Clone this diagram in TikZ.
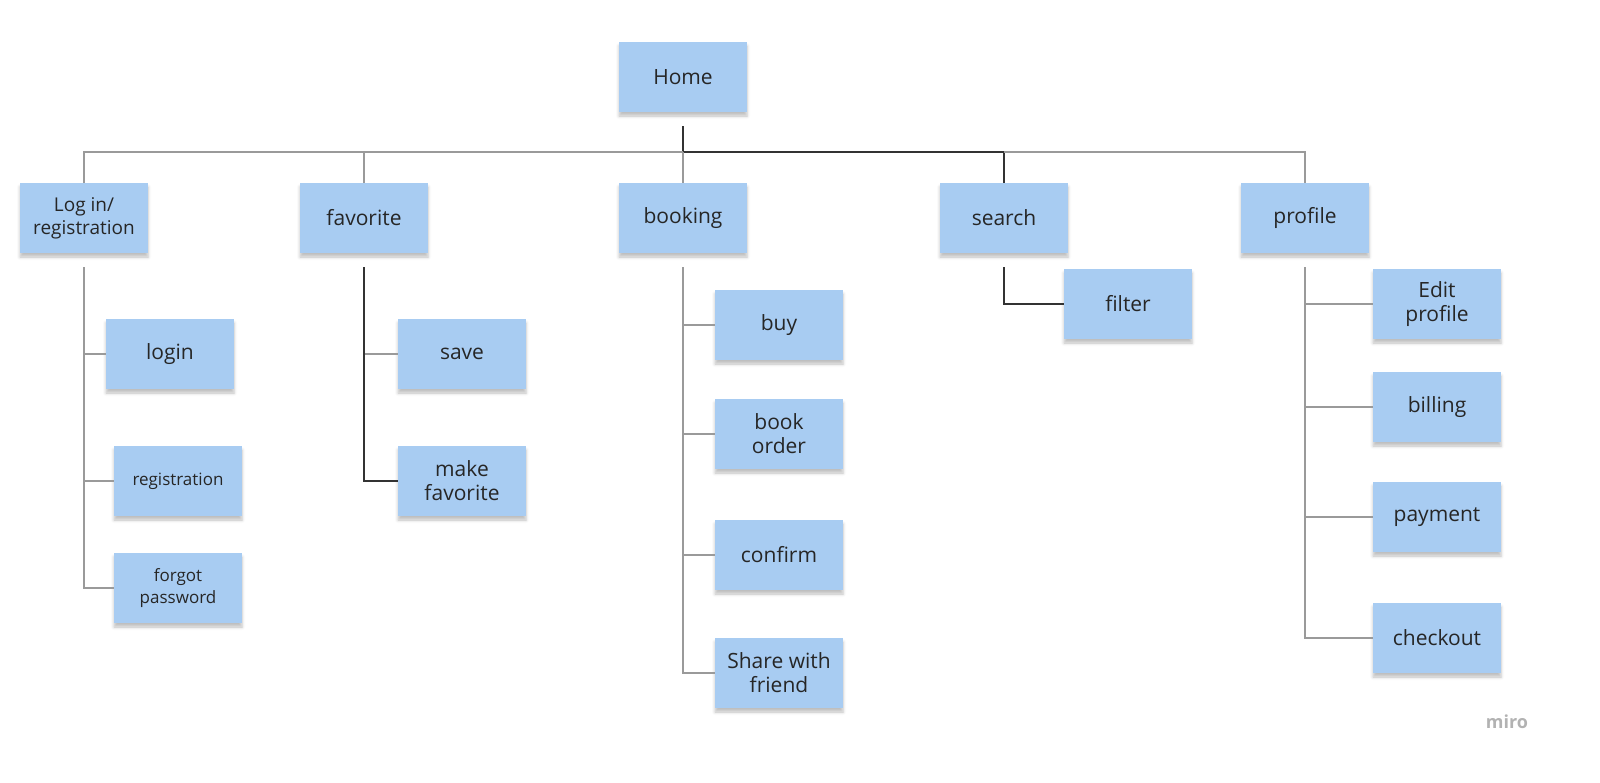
\documentclass[tikz,border=0pt]{standalone}
\usepackage{fontspec}
\setmainfont{Open Sans}
\usetikzlibrary{shadows.blur}
\definecolor{note}{HTML}{A8CCF2}
\definecolor{ln}{HTML}{9A9A9A}
\begin{document}
\begin{tikzpicture}[x=1pt,y=-1pt,
 n/.style={fill=note,minimum width=128pt,minimum height=70pt,inner sep=2pt,align=center,
  font=\fontsize{21}{24}\selectfont,text=black!85,
  blur shadow={shadow xshift=0pt,shadow yshift=-4pt,shadow blur radius=3pt,shadow opacity=25}},
 s/.style={n,font=\fontsize{17}{22}\selectfont},
 e/.style={draw=ln,line width=1.1pt},
 d/.style={draw=black!80,line width=1.3pt}]
\node[n] (home) at (683,77) {Home};
\node[n,font=\fontsize{19}{23}\selectfont] (log) at (84,218) {Log in/\\registration};
\node[n] (fav) at (364,218) {favorite};
\node[n] (book) at (683,218) {booking};
\node[n] (search) at (1004,218) {search};
\node[n] (prof) at (1305,218) {profile};
\node[n] (login) at (170,354) {login};
\node[s] (reg) at (178,481) {registration};
\node[s] (forg) at (178,588) {forgot\\password};
\node[n] (save) at (462,354) {save};
\node[n] (mfav) at (462,481) {make\\favorite};
\node[n] (buy) at (779,325) {buy};
\node[n] (bo) at (779,434) {book\\order};
\node[n] (conf) at (779,555) {confirm};
\node[n] (share) at (779,673) {Share with\\friend};
\node[n] (filt) at (1128,304) {filter};
\node[n] (edit) at (1437,304) {Edit\\profile};
\node[n] (bill) at (1437,407) {billing};
\node[n] (pay) at (1437,517) {payment};
\node[n] (chk) at (1437,638) {checkout};
\coordinate (h1) at (683,126);
\coordinate (hb) at (683,152);
\draw[d] (h1) -- (hb) -| (search.north);
\draw[e] (hb) -| (log.north);
\draw[e] (hb) -| (fav.north);
\draw[e] (hb) -- (book.north);
\draw[e] (search.north|-hb) -| (prof.north);
\foreach \p/\c/\t in {log/login/e,log/reg/e,log/forg/e,fav/save/e,fav/mfav/d,book/buy/e,book/bo/e,book/conf/e,book/share/e,search/filt/d,prof/edit/e,prof/bill/e,prof/pay/e,prof/chk/e}
 \draw[\t] ([yshift=-14pt]\p.south) |- (\c.west);
\node[text=black!30,font=\fontsize{18}{20}\selectfont\bfseries] (miro) at (1507,722) {miro};
\pgfresetboundingbox
\useasboundingbox (0,0) rectangle (1600,782);
\end{tikzpicture}
\end{document}
